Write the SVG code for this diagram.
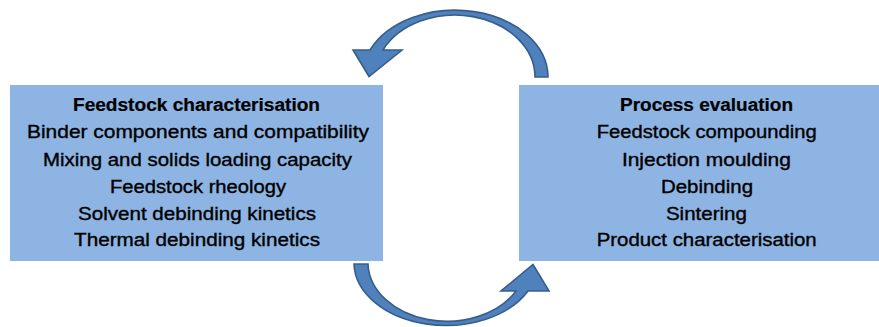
<svg xmlns="http://www.w3.org/2000/svg" width="879" height="327" viewBox="0 0 879 327">
  <style>
    .box { fill: #8DB4E2; }
    .arrow { fill: #4F81BD; stroke: #385D8A; stroke-width: 1.6; stroke-linejoin: miter; }
    text { font-family: "Liberation Sans", Arial, sans-serif; font-size: 17.5px; fill: #000; stroke: #000; stroke-width: 0.35; text-anchor: middle; }
    .title { font-weight: bold; stroke-width: 0.2; }
  </style>
  <rect width="879" height="327" fill="#fff"/>

  <g id="feedstock-characterisation">
    <rect class="box" x="10" y="85" width="373" height="176"/>
    <text class="title" x="196.5" y="111" textLength="247" lengthAdjust="spacingAndGlyphs">Feedstock characterisation</text>
    <text x="198" y="138" textLength="342" lengthAdjust="spacingAndGlyphs">Binder components and compatibility</text>
    <text x="197.5" y="165.5" textLength="309" lengthAdjust="spacingAndGlyphs">Mixing and solids loading capacity</text>
    <text x="198" y="192.5" textLength="176" lengthAdjust="spacingAndGlyphs">Feedstock rheology</text>
    <text x="197" y="219.5" textLength="238" lengthAdjust="spacingAndGlyphs">Solvent debinding kinetics</text>
    <text x="197" y="246" textLength="246" lengthAdjust="spacingAndGlyphs">Thermal debinding kinetics</text>
  </g>

  <g id="process-evaluation">
    <rect class="box" x="519" y="85" width="360" height="176"/>
    <text class="title" x="706.5" y="111" textLength="173" lengthAdjust="spacingAndGlyphs">Process evaluation</text>
    <text x="706.7" y="138" textLength="220" lengthAdjust="spacingAndGlyphs">Feedstock compounding</text>
    <text x="706.4" y="165.5" textLength="169" lengthAdjust="spacingAndGlyphs">Injection moulding</text>
    <text x="707" y="192.5" textLength="92" lengthAdjust="spacingAndGlyphs">Debinding</text>
    <text x="706.4" y="219.5" textLength="81" lengthAdjust="spacingAndGlyphs">Sintering</text>
    <text x="706.7" y="246" textLength="220" lengthAdjust="spacingAndGlyphs">Product characterisation</text>
  </g>

  <g id="connectors">
    <!-- curved arrow over the top: process evaluation back to feedstock characterisation -->
    <path class="arrow" d="M548,77 A93,67 0 0 0 370,50 L353,50 L369,76.5 L402,50 L383,50 A80,62 0 0 1 535,77 Z"/>
    <!-- curved arrow underneath: feedstock characterisation to process evaluation -->
    <path class="arrow" d="M354,264 A92,63 0 0 0 528,291 L549,291 L533,264.5 L501,291 L516,291 A79,59 0 0 1 368,264 Z"/>
  </g>
</svg>
